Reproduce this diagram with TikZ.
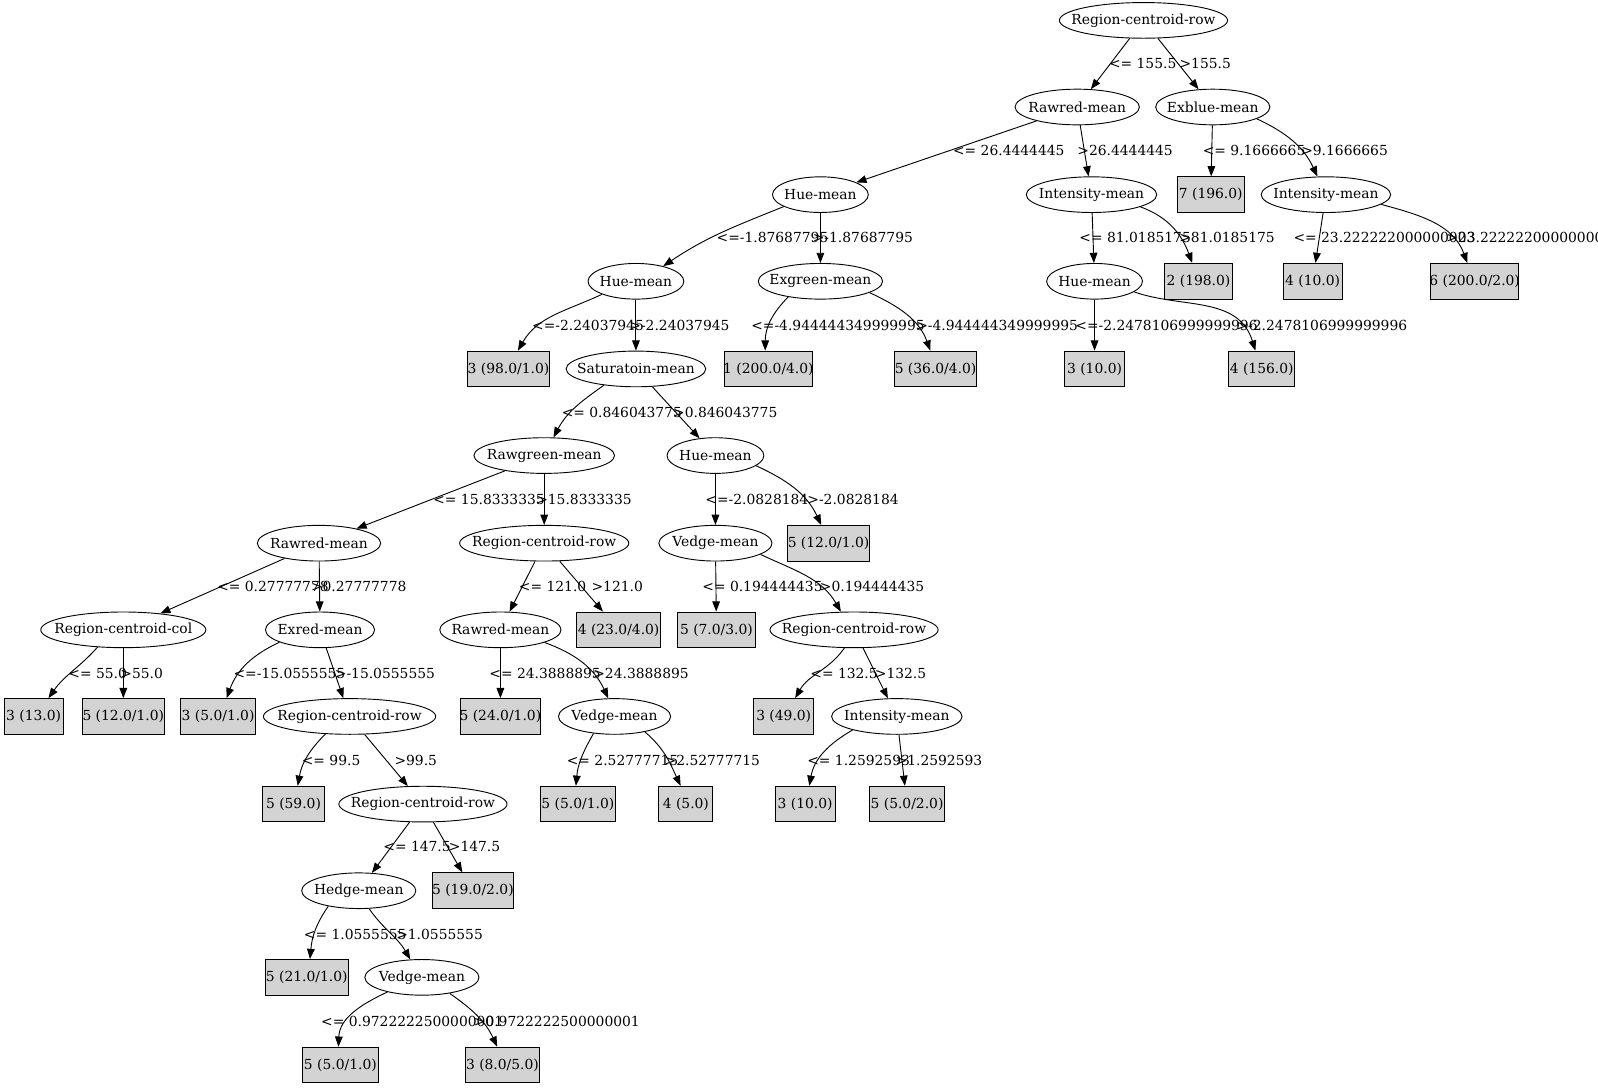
\documentclass[tikz,border=0pt]{standalone}
\usepackage{fontspec}
\setmainfont{DejaVu Serif}
\usetikzlibrary{shapes.geometric,arrows.meta}
\definecolor{leafgray}{HTML}{D3D3D3}
\newcommand{\zw}[1]{\makebox[0pt]{#1}}
\tikzset{
  split/.style={draw, ellipse, inner sep=0pt, minimum height=35pt, line width=0.9pt},
  leaf/.style={draw, rectangle, fill=leafgray, inner sep=0pt, minimum height=35pt, line width=0.9pt},
  edge/.style={line width=0.9pt, -{Triangle[length=10pt,width=7.5pt]}},
  cond/.style={inner sep=0pt},
}
\begin{document}
\begin{tikzpicture}[x=1pt,y=1pt,font=\fontsize{13.6}{16}\selectfont]
\useasboundingbox (0,0) rectangle (1568,-1068);

% tree nodes
\node[split, minimum width=165] (n1) at (1122,-20) {\zw{Region-centroid-row}};
\node[split, minimum width=122] (n2) at (1057,-105) {\zw{Rawred-mean}};
\node[split, minimum width=112] (n3) at (1190,-105) {\zw{Exblue-mean}};
\node[split, minimum width=94] (n4) at (805,-191) {\zw{Hue-mean}};
\node[split, minimum width=128] (n5) at (1071,-191) {\zw{Intensity-mean}};
\node[leaf, minimum width=66] (n6) at (1188,-191) {\zw{7 (196.0)}};
\node[split, minimum width=127] (n7) at (1301,-191) {\zw{Intensity-mean}};
\node[split, minimum width=94] (n8) at (624,-276) {\zw{Hue-mean}};
\node[split, minimum width=122] (n9) at (805,-276) {\zw{Exgreen-mean}};
\node[split, minimum width=94] (n10) at (1074,-276) {\zw{Hue-mean}};
\node[leaf, minimum width=66] (n11) at (1176,-276) {\zw{2 (198.0)}};
\node[leaf, minimum width=58] (n12) at (1288,-276) {\zw{4 (10.0)}};
\node[leaf, minimum width=86] (n13) at (1447,-276) {\zw{6 (200.0/2.0)}};
\node[leaf, minimum width=81] (n14) at (499,-362) {\zw{3 (98.0/1.0)}};
\node[split, minimum width=137] (n15) at (624,-362) {\zw{Saturatoin-mean}};
\node[leaf, minimum width=87] (n16) at (754,-362) {\zw{1 (200.0/4.0)}};
\node[leaf, minimum width=81] (n17) at (918,-362) {\zw{5 (36.0/4.0)}};
\node[leaf, minimum width=59] (n18) at (1074,-362) {\zw{3 (10.0)}};
\node[leaf, minimum width=65] (n19) at (1238,-362) {\zw{4 (156.0)}};
\node[split, minimum width=138] (n20) at (534,-447) {\zw{Rawgreen-mean}};
\node[split, minimum width=95] (n21) at (702,-447) {\zw{Hue-mean}};
\node[split, minimum width=121] (n22) at (313,-533) {\zw{Rawred-mean}};
\node[split, minimum width=166] (n23) at (534,-533) {\zw{Region-centroid-row}};
\node[split, minimum width=111] (n24) at (702,-533) {\zw{Vedge-mean}};
\node[leaf, minimum width=80] (n25) at (813,-533) {\zw{5 (12.0/1.0)}};
\node[split, minimum width=162] (n26) at (121,-618) {\zw{Region-centroid-col}};
\node[split, minimum width=107] (n27) at (314,-618) {\zw{Exred-mean}};
\node[split, minimum width=119] (n28) at (491,-618) {\zw{Rawred-mean}};
\node[leaf, minimum width=82] (n29) at (607,-618) {\zw{4 (23.0/4.0)}};
\node[leaf, minimum width=76] (n30) at (703,-618) {\zw{5 (7.0/3.0)}};
\node[split, minimum width=165] (n31) at (838,-618) {\zw{Region-centroid-row}};
\node[leaf, minimum width=58] (n32) at (33,-703) {\zw{3 (13.0)}};
\node[leaf, minimum width=80] (n33) at (121,-703) {\zw{5 (12.0/1.0)}};
\node[leaf, minimum width=73] (n34) at (214,-703) {\zw{3 (5.0/1.0)}};
\node[split, minimum width=169] (n35) at (343,-703) {\zw{Region-centroid-row}};
\node[leaf, minimum width=79] (n36) at (491,-703) {\zw{5 (24.0/1.0)}};
\node[split, minimum width=110] (n37) at (603,-703) {\zw{Vedge-mean}};
\node[leaf, minimum width=59] (n38) at (769,-703) {\zw{3 (49.0)}};
\node[split, minimum width=128] (n39) at (880,-703) {\zw{Intensity-mean}};
\node[leaf, minimum width=60] (n40) at (288,-789) {\zw{5 (59.0)}};
\node[split, minimum width=165] (n41) at (415,-789) {\zw{Region-centroid-row}};
\node[leaf, minimum width=73] (n42) at (567,-789) {\zw{5 (5.0/1.0)}};
\node[leaf, minimum width=53] (n43) at (673,-789) {\zw{4 (5.0)}};
\node[leaf, minimum width=59] (n44) at (790,-789) {\zw{3 (10.0)}};
\node[leaf, minimum width=73] (n45) at (890,-789) {\zw{5 (5.0/2.0)}};
\node[split, minimum width=112] (n46) at (352,-874) {\zw{Hedge-mean}};
\node[leaf, minimum width=80] (n47) at (464,-874) {\zw{5 (19.0/2.0)}};
\node[leaf, minimum width=81] (n48) at (301,-959) {\zw{5 (21.0/1.0)}};
\node[split, minimum width=112] (n49) at (414,-959) {\zw{Vedge-mean}};
\node[leaf, minimum width=74] (n50) at (334,-1045) {\zw{5 (5.0/1.0)}};
\node[leaf, minimum width=73] (n51) at (493,-1045) {\zw{3 (8.0/5.0)}};

% branches
\draw[edge] (n1) -- (n2);
\draw[edge] (n1) -- (n3);
\draw[edge] (n2) -- (n4);
\draw[edge] (n2) -- (n5);
\draw[edge] (n3) -- (n6);
\draw[edge] (n3.-15) to[out=-25,in=115] (n7.115);
\draw[edge] (n4.198) to[out=202,in=34] (n8.29);
\draw[edge] (n4) -- (n9);
\draw[edge] (n5) -- (n10);
\draw[edge] (n5.-14) to[out=-20,in=110] (n11.109);
\draw[edge] (n7) -- (n12);
\draw[edge] (n7.-10) to[out=-15,in=110] (n13.112);
\draw[edge] (n8.201) to[out=205,in=60] (n14.63);
\draw[edge] (n8) -- (n15);
\draw[edge] (n9.206) to[out=225,in=90] (n16.100);
\draw[edge] (n9.-13) to[out=-25,in=110] (n17.106);
\draw[edge] (n10) -- (n18);
\draw[edge] (n10.-15) .. controls (1160,-303) and (1215,-290) .. (n19.109);
\draw[edge] (n15.207) to[out=215,in=62] (n20.63);
\draw[edge] (n15) -- (n21);
\draw[edge] (n20) -- (n22);
\draw[edge] (n20) -- (n23);
\draw[edge] (n21) -- (n24);
\draw[edge] (n21.-14) to[out=-25,in=115] (n25.112);
\draw[edge] (n22) -- (n26);
\draw[edge] (n22) -- (n27);
\draw[edge] (n23) -- (n28);
\draw[edge] (n23) -- (n29);
\draw[edge] (n24) -- (n30);
\draw[edge] (n24.-14) to[out=-25,in=120] (n31.126);
\draw[edge] (n26.214) to[out=228,in=55] (n32.51);
\draw[edge] (n26) -- (n33);
\draw[edge] (n27.197) to[out=205,in=70] (n34.65);
\draw[edge] (n27) -- (n35);
\draw[edge] (n28) -- (n36);
\draw[edge] (n28.-16) to[out=-20,in=115] (n37.109);
\draw[edge] (n31.242) to[out=235,in=60] (n38.58);
\draw[edge] (n31) -- (n39);
\draw[edge] (n35.216) to[out=225,in=80] (n40.77);
\draw[edge] (n35) -- (n41);
\draw[edge] (n37.219) to[out=240,in=85] (n42.96);
\draw[edge] (n37.-27) to[out=-40,in=115] (n43.106);
\draw[edge] (n39.197) to[out=210,in=80] (n44.77);
\draw[edge] (n39) -- (n45);
\draw[edge] (n41) -- (n46);
\draw[edge] (n41) -- (n47);
\draw[edge] (n46.207) to[out=235,in=85] (n48.80);
\draw[edge] (n46.-60) to[out=-55,in=120] (n49.123);
\draw[edge] (n49.203) to[out=205,in=88] (n50.96);
\draw[edge] (n49.-30) to[out=-35,in=115] (n51.106);

% split conditions
\node[cond, anchor=west] (l1) at (1088,-62) {<= 155.5};
\node[cond, anchor=east] (l2) at (1208,-62) {>155.5};
\node[cond, anchor=west] (l3) at (935,-148) {<= 26.4444445};
\node[cond, anchor=east] (l4) at (1151,-148) {>26.4444445};
\node[cond, anchor=west] (l5) at (1180,-148) {<= 9.1666665};
\node[cond, anchor=east] (l6) at (1362,-148) {>9.1666665};
\node[cond, anchor=west] (l7) at (703,-233) {<=-1.87687795};
\node[cond, anchor=east] (l8) at (896,-233) {>-1.87687795};
\node[cond, anchor=west] (l9) at (1059,-233) {<= 81.0185175};
\node[cond, anchor=east] (l10) at (1251,-233) {>81.0185175};
\node[cond, anchor=west] (l11) at (1269,-233) {<= 23.222222000000003};
\node[cond, anchor=west] (l12) at (1419,-233) {>23.222222000000003};
\node[cond, anchor=west] (l13) at (522,-319) {<=-2.24037945};
\node[cond, anchor=east] (l14) at (716,-319) {>-2.24037945};
\node[cond, anchor=west] (l15) at (737,-319) {<=-4.944444349999995};
\node[cond, anchor=east] (l16) at (1058,-319) {>-4.944444349999995};
\node[cond, anchor=west] (l17) at (1055,-319) {<=-2.2478106999999996};
\node[cond, anchor=east] (l18) at (1381,-319) {>-2.2478106999999996};
\node[cond, anchor=west] (l19) at (551,-405) {<= 0.846043775};
\node[cond, anchor=east] (l20) at (763,-405) {>0.846043775};
\node[cond, anchor=west] (l21) at (425,-490) {<= 15.8333335};
\node[cond, anchor=east] (l22) at (620,-490) {>15.8333335};
\node[cond, anchor=west] (l23) at (692,-490) {<=-2.0828184};
\node[cond, anchor=east] (l24) at (882,-490) {>-2.0828184};
\node[cond, anchor=west] (l25) at (213,-575) {<= 0.27777778};
\node[cond, anchor=east] (l26) at (399,-575) {>0.27777778};
\node[cond, anchor=west] (l27) at (509,-575) {<= 121.0};
\node[cond, anchor=east] (l28) at (631,-575) {>121.0};
\node[cond, anchor=west] (l29) at (689,-575) {<= 0.194444435};
\node[cond, anchor=east] (l30) at (907,-575) {>0.194444435};
\node[cond, anchor=west] (l31) at (67,-661) {<= 55.0};
\node[cond, anchor=east] (l32) at (160,-661) {>55.0};
\node[cond, anchor=west] (l33) at (229,-661) {<=-15.0555555};
\node[cond, anchor=east] (l34) at (427,-661) {>-15.0555555};
\node[cond, anchor=west] (l35) at (480,-661) {<= 24.3888895};
\node[cond, anchor=east] (l36) at (676,-661) {>24.3888895};
\node[cond, anchor=west] (l37) at (795,-661) {<= 132.5};
\node[cond, anchor=east] (l38) at (909,-661) {>132.5};
\node[cond, anchor=west] (l39) at (296,-746) {<= 99.5};
\node[cond, anchor=east] (l40) at (429,-746) {>99.5};
\node[cond, anchor=west] (l41) at (556,-746) {<= 2.52777715};
\node[cond, anchor=east] (l42) at (746,-746) {>2.52777715};
\node[cond, anchor=west] (l43) at (792,-746) {<= 1.2592593};
\node[cond, anchor=east] (l44) at (964,-746) {>1.2592593};
\node[cond, anchor=west] (l45) at (376,-831) {<= 147.5};
\node[cond, anchor=east] (l46) at (491,-831) {>147.5};
\node[cond, anchor=west] (l47) at (298,-917) {<= 1.0555555};
\node[cond, anchor=east] (l48) at (474,-917) {>1.0555555};
\node[cond, anchor=west] (l49) at (315,-1002) {<= 0.9722222500000001};
\node[cond, anchor=east] (l50) at (628,-1002) {>0.9722222500000001};
\end{tikzpicture}
\end{document}
